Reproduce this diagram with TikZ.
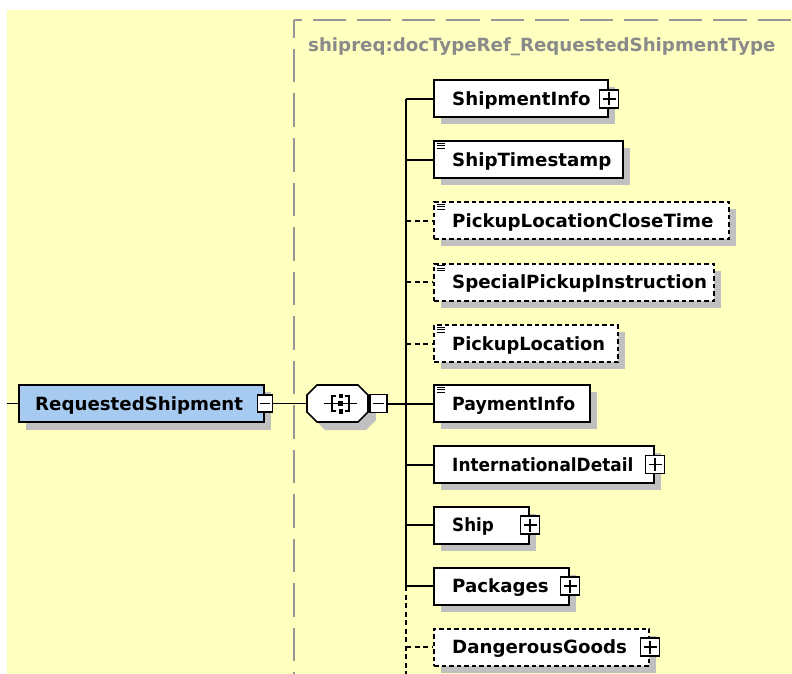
\documentclass[tikz,border=0pt]{standalone}
\usepackage{fontspec}
\setmainfont{DejaVu Sans}
\usetikzlibrary{calc}

\definecolor{bgyellow}{RGB}{255,255,192}
\definecolor{elemblue}{RGB}{166,202,240}
\definecolor{shadowgray}{RGB}{192,192,192}
\definecolor{framegray}{RGB}{150,150,150}
\definecolor{titlegray}{RGB}{138,138,138}

\tikzset{
  elembox/.style={draw=black, line width=2pt, fill=white, minimum height=37pt,
    inner sep=0pt, anchor=west},
  optbox/.style={elembox, dash pattern=on 4.5pt off 3pt},
  rootbox/.style={elembox, fill=elemblue},
  lbl/.style={font=\bfseries\fontsize{18.2}{20}\selectfont, text=black,
    inner sep=0pt, anchor=base west},
  titlelbl/.style={font=\bfseries\fontsize{18.2}{20}\selectfont, text=titlegray,
    inner sep=0pt, anchor=base west},
  expbox/.style={draw=black, line width=1.4pt, fill=white, minimum width=18.5pt,
    minimum height=18pt, inner sep=0pt},
  frameline/.style={draw=framegray, line width=2pt},
  conn/.style={draw=black, line width=1.6pt},
  busline/.style={draw=black, line width=2pt},
  optline/.style={draw=black, line width=2pt, dash pattern=on 5pt off 3.5pt},
  shadowfill/.style={fill=shadowgray},
}

% element box: #1 name, #2 left x, #3 centre y, #4 width, #5 style, #6 text
\newcommand\xelem[6]{%
  \fill[shadowfill] (#2+8,#3-18.5+7) rectangle (#2+#4+8,#3+18.5+7);
  \node[#5, minimum width=#4pt] (#1) at (#2,#3) {};
  \node[lbl] (#1-t) at (#2+19,#3+6.6) {#6};
}
% expand box with a plus sign on the right edge of an element
\newcommand\xplus[1]{%
  \node[expbox] (#1-x) at (#1.east) {};
  \draw[line width=1.4pt] ($(#1-x.center)+(-6.5,0)$) -- ($(#1-x.center)+(6.5,0)$);
  \draw[line width=1.4pt] ($(#1-x.center)+(0,-6.5)$) -- ($(#1-x.center)+(0,6.5)$);
}
% simple-content marker (three short bars) in the top left corner
\newcommand\xbars[1]{%
  \foreach \k in {3,5.5,8}
    \draw[line width=1pt] ($(#1.north west)+(4,\k)$) -- ($(#1.north west)+(12,\k)$);
}

\begin{document}
\begin{tikzpicture}[x=1pt,y=-1pt]
\useasboundingbox (0,0) rectangle (792,674);
\fill[white] (0,0) rectangle (792,674);
\fill[bgyellow] (7,10) rectangle (792,674);

% complex type frame
\draw[frameline, dash pattern=on 33.5pt off 11pt, dash phase=26pt] (294,20) -- (800,20);
\draw[frameline, dash pattern=on 33.5pt off 11pt, dash phase=15.5pt] (294,20) -- (294,690);
\node[titlelbl] (title) at (308,52) {shipreq:docTypeRef\_RequestedShipmentType};

% root element
\fill[shadowfill] (26,392) rectangle (271,430);
\node[rootbox, minimum width=245pt] (rs) at (18,403.5) {};
\node[lbl] (rs-t) at (35,410.1) {RequestedShipment};
\node[expbox, minimum width=15pt, minimum height=17pt] (rs-x) at (rs.east) {};
\draw[line width=1.4pt] ($(rs-x.center)+(-5,0)$) -- ($(rs-x.center)+(5,0)$);

% sequence compositor
\fill[shadowfill] (325,393) -- (366,393) -- (376,403) -- (376,420) -- (366,430)
  -- (325,430) -- (315,420) -- (315,403) -- cycle;
\draw[line width=1.6pt, fill=white] (317,385) -- (358,385) -- (368,395) -- (368,412)
  -- (358,422) -- (317,422) -- (307,412) -- (307,395) -- cycle;
\node[inner sep=0pt, minimum width=61pt, minimum height=37pt] (seq) at (337.5,403.5) {};
\draw[line width=1.4pt] (324,403.5) -- (357,403.5);
\draw[line width=1.4pt] (336,396) -- (332,396) -- (332,411) -- (336,411);
\draw[line width=1.4pt] (345,396) -- (349,396) -- (349,411) -- (345,411);
\fill[black] (338.5,393.5) rectangle (342.5,398);
\fill[black] (338,401) rectangle (343,406);
\fill[black] (338.5,409) rectangle (342.5,413.5);
\node[expbox, minimum width=17pt, minimum height=18pt] (seq-x) at (378.5,403.5) {};
\draw[line width=1.4pt] ($(seq-x.center)+(-5.5,0)$) -- ($(seq-x.center)+(5.5,0)$);

% child elements
\xelem{e1}{433}{99}{174}{elembox}{ShipmentInfo}
\xplus{e1}
\xelem{e2}{433}{159.5}{189}{elembox}{ShipTimestamp}
\xbars{e2}
\xelem{e3}{433}{220.5}{295}{optbox}{PickupLocationCloseTime}
\xbars{e3}
\xelem{e4}{433}{282}{280}{optbox}{SpecialPickupInstruction}
\xbars{e4}
\xelem{e5}{433}{343.5}{184}{optbox}{\scalebox{0.98}[1]{PickupLocation}}
\xbars{e5}
\xelem{e6}{433}{403.5}{156}{elembox}{\scalebox{0.95}[1]{PaymentInfo}}
\xbars{e6}
\xelem{e7}{433}{464.5}{220}{elembox}{\scalebox{0.93}[1]{InternationalDetail}}
\xplus{e7}
\xelem{e8}{433}{525}{95}{elembox}{\scalebox{0.92}[1]{Ship}}
\xplus{e8}
\xelem{e9}{433}{586}{135}{elembox}{Packages}
\xplus{e9}
\xelem{e10}{433}{647}{215}{optbox}{DangerousGoods}
\xplus{e10}

% connectors
\coordinate (in) at (7,403.5);
\coordinate (bus) at (406,403.5);
\coordinate (busend) at (406,690);
\draw[conn] (in) -- (rs.west);
\draw[conn] (rs-x.east) -- (seq.west);
\draw[busline] (seq-x.east) -- (bus);
\draw[busline] (bus |- e1.west) -- (bus |- e9.west);
\draw[optline] (bus |- e9.west) -- (busend);
\foreach \e in {e1,e2,e6,e7,e8,e9}
  \draw[busline] (bus |- \e.west) -- (\e.west);
\foreach \e in {e3,e4,e5,e10}
  \draw[optline] (bus |- \e.west) -- (\e.west);
\end{tikzpicture}
\end{document}
